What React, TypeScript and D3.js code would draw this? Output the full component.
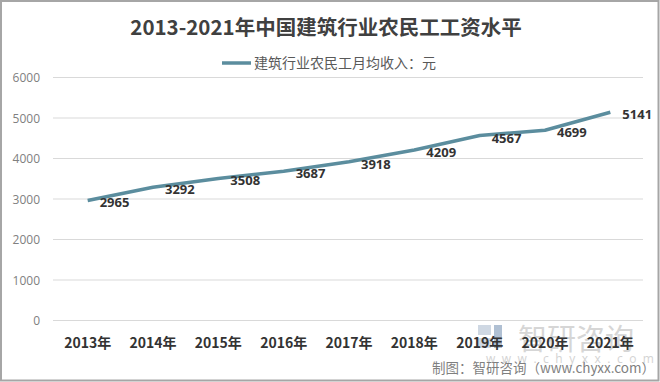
import React from "react";
import * as d3 from "d3";

const years = ["2013年", "2014年", "2015年", "2016年", "2017年", "2018年", "2019年", "2020年", "2021年"];
const income = [2965, 3292, 3508, 3687, 3918, 4209, 4567, 4699, 5141];
const yTicks = [0, 1000, 2000, 3000, 4000, 5000, 6000];
const title = "2013-2021年中国建筑行业农民工工资水平";
const legendLabel = "建筑行业农民工月均收入：元";
const source = "制图：智研咨询（www.chyxx.com）";

const W = 660, H = 382;
const CJK = "'Noto Sans CJK SC', 'Noto Sans', sans-serif";
const NUM = "'Open Sans', 'Noto Sans', sans-serif";
const LINE = "#5b8d9e";

export default function App() {
  const x = d3.scaleBand<string>().domain(years).range([55, 643]);
  const y = d3.scaleLinear().domain([0, 6000]).range([320.5, 77.5]);
  const cx = (d: string) => (x(d) as number) + x.bandwidth() / 2;
  const line = d3.line<number>().x((_, i) => cx(years[i])).y((v) => y(v));

  return (
    <svg width={W} height={H} style={{ position: "absolute", left: 0, top: 0 }}>
      <rect x={0} y={0} width={W} height={H} fill="#fff" />
      <rect x={1} y={1} width={W - 2.5} height={H - 2.5} fill="none" stroke="#a6a6a6" strokeWidth={2} />
      <text x={326} y={35} textAnchor="middle" fontFamily={CJK} fontWeight="bold" fontSize={20.5} fill="#404040">{title}</text>
      <line x1={222} x2={251} y1={63} y2={63} stroke={LINE} strokeWidth={3.5} />
      <text x={254} y={68} fontFamily={CJK} fontSize={14} fill="#595959">{legendLabel}</text>
      {yTicks.map((t) => (
        <g key={t}>
          <line x1={53} x2={643} y1={y(t)} y2={y(t)} stroke="#d9d9d9" strokeWidth={1} />
          <text x={40} y={y(t) + 4.5} textAnchor="end" fontFamily={NUM} fontSize={12} fill="#808080">{t}</text>
        </g>
      ))}
      {/* watermark */}
      <g>
        <rect x={478} y={325} width={13} height={10} fill="#cfd8e3" />
        <rect x={478} y={338} width={13} height={10} fill="#cfd8e3" />
        <rect x={494} y={325} width={8} height={23} fill="#b0c0d3" />
        <text x={518} y={350} fontFamily={CJK} fontSize={29} fill="#d6d6d6">智研咨询</text>
        <text x={486} y={363} fontFamily={NUM} fontSize={12} fill="#d3d3d3" letterSpacing={6.5}>www.chyxx.com</text>
      </g>
      {years.map((d) => (
        <text key={d} x={cx(d)} y={348} textAnchor="middle" fontFamily={CJK} fontWeight="bold" fontSize={14} fill="#333">{d}</text>
      ))}
      <path d={line(income) || ""} fill="none" stroke={LINE} strokeWidth={3.5} strokeLinejoin="round" />
      {income.map((v, i) => (
        <text key={i} x={cx(years[i]) + 12} y={y(v) + 7} fontFamily={NUM} fontWeight="bold" fontSize={13} fill="#333">{v}</text>
      ))}
      <text x={655} y={373} textAnchor="end" fontFamily={CJK} fontSize={13.5} fill="#7f7f7f">{source}</text>
    </svg>
  );
}
